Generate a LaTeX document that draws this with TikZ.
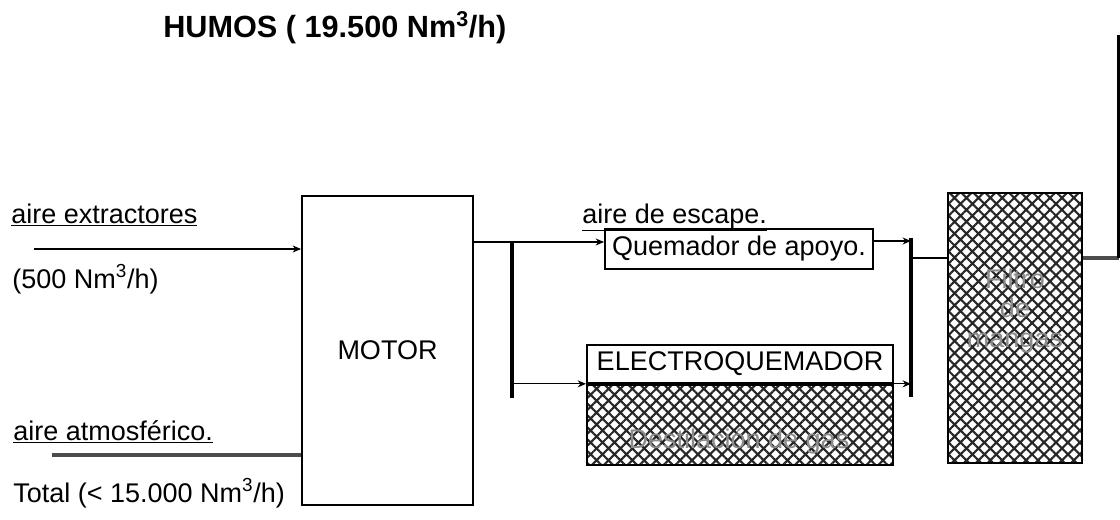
\documentclass[tikz,border=0pt]{standalone}
\usepackage{fontspec}
\setmainfont{Liberation Sans}
\usetikzlibrary{arrows.meta, positioning, patterns.meta}

\begin{document}
\begin{tikzpicture}[
    x=0.025cm, y=-0.025cm,
    label/.style={inner sep=0pt, anchor=base west, font=\fontsize{19.2}{23}\selectfont},
    unit/.style={draw, line width=1.3pt, inner sep=0pt, font=\fontsize{19.2}{23}\selectfont},
    mesh/.style={unit, pattern={Hatch[angle=45, distance=6pt, line width=1.5pt]}, pattern color=black!85},
    meshtext/.style={inner sep=0pt, text=black!45, font=\fontsize{19.2}{21.3}\selectfont, align=center},
    flow/.style={line width=0.8pt, -{Stealth[length=6pt, width=5pt]}},
    pipe/.style={line width=0.8pt},
    duct/.style={line width=2.4pt, black!70},
    bar/.style={line width=2.2pt}
]
    \useasboundingbox (0,0) rectangle (1120,520);

    \node[inner sep=0pt, anchor=base west, font=\fontsize{21.8}{26}\selectfont\bfseries] (humos) at (163,37) {HUMOS ( 19.500 Nm\textsuperscript{3}/h)};

    \node[unit, minimum width=4.275cm, minimum height=7.725cm] (motor) at (387.5,350.5) {MOTOR};
    \node[unit, minimum width=6.7cm, minimum height=1cm] (apoyo) at (739,249) {Quemador de apoyo.};
    \node[unit, minimum width=7.65cm, minimum height=0.95cm, anchor=north] (electro) at (740,344) {ELECTROQUEMADOR};
    \node[mesh, minimum width=7.65cm, minimum height=2cm, anchor=north] (destila) at (electro.south) {};
    \node[mesh, minimum width=3.35cm, minimum height=6.75cm] (filtro) at (1015,328) {};
    \node[meshtext] (destilatxt) at (739,441) {Destilación de gas};
    \node[meshtext] (filtrotxt) at (1015,311) {Filtro\\de\\mangas};

    \node[label] (extractores) at (11,223) {\underline{aire extractores}};
    \node[label] (caudal) at (12,288) {(500 Nm\textsuperscript{3}/h)};
    \node[label] (atmosferico) at (13,440) {\underline{aire atmosférico.}};
    \node[label] (total) at (13,502) {Total (< 15.000 Nm\textsuperscript{3}/h)};
    \node[label] (escape) at (582,223) {\underline{aire de escape.}};

    \coordinate (extr) at (34,249);
    \coordinate (atmo) at (52,455);
    \coordinate (split) at (512,242);
    \coordinate (splitend) at (512,398);
    \coordinate (merge) at (911,238);
    \coordinate (mergeend) at (911,397);
    \coordinate (fin) at (911,258);
    \coordinate (chimenea) at (1119,35);

    \draw[flow] (extr) -- (extr -| motor.west);
    \draw[duct] (atmo) -- (atmo -| motor.west);

    \draw[pipe] (motor.east |- split) -- (split);
    \draw[bar] (split) -- (splitend);
    \draw[flow] (split) -- (split -| apoyo.west);
    \draw[flow] (split |- electro.south west) -- (electro.south west);

    \draw[bar] (merge) -- (mergeend);
    \draw[flow] ([yshift=0.2cm]apoyo.east) -- ([yshift=0.2cm]apoyo.east -| merge);
    \draw[flow] (electro.south east) -- (electro.south east -| merge);
    \draw[pipe] (fin) -- (fin -| filtro.west);
    \draw[duct] (fin -| filtro.east) -- (fin -| chimenea);
    \draw[bar] (fin -| chimenea) -- (chimenea);
\end{tikzpicture}
\end{document}
